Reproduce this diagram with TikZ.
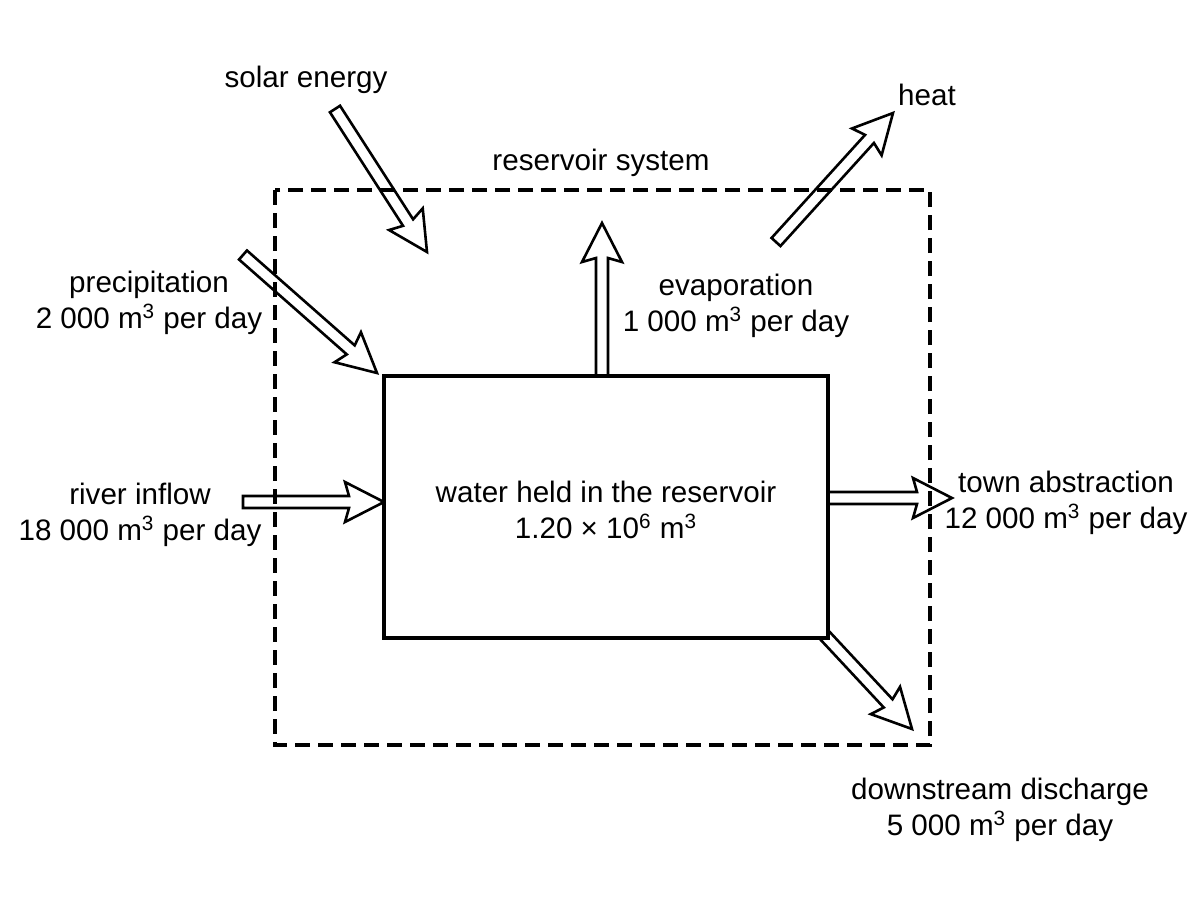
\documentclass[tikz,border=0pt]{standalone}
\usepackage{fontspec}
\setmainfont{Liberation Sans}
\usetikzlibrary{calc}
\tikzset{
  blk/.style={draw=black, line width=1.3pt, line join=miter},
  lbl/.style={inner sep=0pt, align=center, font=\fontsize{14.8}{18.2}\selectfont},
  sysbox/.style={draw=black, line width=1.6pt, dash pattern=on 7.5pt off 4pt},
  resbox/.style={draw=black, fill=white, line width=1.8pt},
}
\newcommand\barrow[2]{%
  \coordinate (bj) at ($(#2)!17.5pt!(#1)$);
  \coordinate (bb) at ($(#2)!19.5pt!(#1)$);
  \draw[blk] ($(#1)!3pt!90:(#2)$) -- ($(bj)!3pt!90:(#2)$) -- ($(bb)!10pt!90:(#2)$)
    -- (#2) -- ($(bb)!10pt!-90:(#2)$) -- ($(bj)!3pt!-90:(#2)$) -- ($(#1)!3pt!-90:(#2)$) -- cycle;
}
\begin{document}
\begin{tikzpicture}[x=0.5pt,y=-0.5pt]
\useasboundingbox[fill=white] (0,0) rectangle (1200,896);
% coordinates of arrow ends
\coordinate (solarA) at (335,109);  \coordinate (solarB) at (427,252);
\coordinate (precA) at (243,255);   \coordinate (precB) at (377,373);
\coordinate (heatA) at (776,242);   \coordinate (heatB) at (893,113);
\coordinate (evapA) at (602,382);   \coordinate (evapB) at (602,223);
\coordinate (riverA) at (243,502);  \coordinate (riverB) at (384,502);
\coordinate (townA) at (822,498);   \coordinate (townB) at (952,498);
\coordinate (downA) at (816,626);   \coordinate (downB) at (912,729);
% system boundary
\draw[sysbox] (275,190) rectangle (930,745);
% arrows
\barrow{solarA}{solarB}
\barrow{precA}{precB}
\barrow{heatA}{heatB}
\barrow{evapA}{evapB}
\barrow{riverA}{riverB}
\barrow{townA}{townB}
\barrow{downA}{downB}
% reservoir
\node[resbox, minimum width=222pt, minimum height=131pt, inner sep=0pt] (res) at (606,507) {};
\node[lbl] (resT) at (606,510) {water held in the reservoir\\1.20 × 10\textsuperscript{6} m\textsuperscript{3}};
% labels
\node[lbl] (solarT) at (306,80) {solar energy};
\node[lbl] (heatT) at (927,95) {heat};
\node[lbl] (sysT) at (601,163) {reservoir system};
\node[lbl] (precT) at (149,303) {precipitation\\2 000 m\textsuperscript{3} per day};
\node[lbl] (evapT) at (736,306) {evaporation\\1 000 m\textsuperscript{3} per day};
\node[lbl] (riverT) at (140,515) {river inflow\\18 000 m\textsuperscript{3} per day};
\node[lbl] (townT) at (1066,503) {town abstraction\\12 000 m\textsuperscript{3} per day};
\node[lbl] (downT) at (1000,810) {downstream discharge\\5 000 m\textsuperscript{3} per day};
\end{tikzpicture}
\end{document}
